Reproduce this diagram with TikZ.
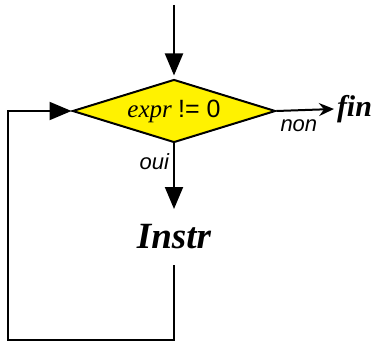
\documentclass[tikz,border=0pt]{standalone}
\usepackage{fontspec}
\setmainfont{Liberation Serif}
\setsansfont{Liberation Sans}
\usetikzlibrary{shapes, arrows.meta, positioning}

\begin{document}
\begin{tikzpicture}[x=1pt, y=-1pt, line width=2pt, line join=miter,
    fleche/.style={-{Triangle[length=22pt, width=18pt]}},
    sortie/.style={-{Stealth[length=15pt, width=13pt, inset=5pt]}},
    test/.style={diamond, draw, fill=yellow, aspect=3.2, inner sep=0pt,
      minimum width=203pt, minimum height=63pt},
    etiq/.style={font=\fontsize{22}{26}\selectfont\sffamily\itshape, inner sep=1pt}]
  \useasboundingbox (0,0) rectangle (372,342);
  \coordinate (haut) at (174,5);
  \node[test] (cond) at (174,111) {\fontsize{25}{28}\selectfont\textit{expr} \sffamily != 0};
  \node[anchor=west, inner sep=2pt, font=\fontsize{30}{34}\selectfont\bfseries\itshape] (fin) at (334,109) {fin};
  \node[minimum height=54pt, font=\fontsize{37}{40}\selectfont\bfseries\itshape] (instr) at (174,237) {Instr};
  \coordinate (gauche) at (8,340);
  % boucle
  \draw[fleche] (haut) -- ([yshift=3pt]cond.north);
  \draw[sortie] (cond.east) -- (fin.west) node[etiq, anchor=north west, yshift=-7pt, xshift=2pt, pos=0.0] {non};
  \draw[fleche] (cond.south) -- (instr.north) node[etiq, anchor=east, xshift=-3pt, pos=0.28] {oui};
  \draw[fleche] (instr.south) |- (gauche) |- (cond.west);
\end{tikzpicture}
\end{document}
